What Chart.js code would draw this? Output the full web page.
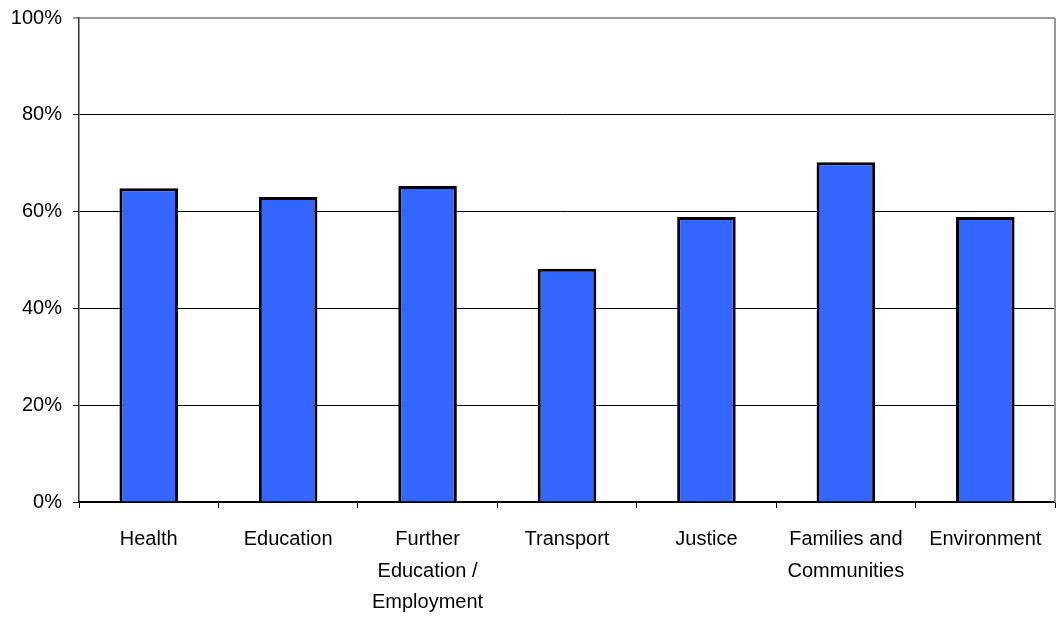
<!DOCTYPE html>
<html>
<head>
<meta charset="utf-8">
<script src="https://cdn.jsdelivr.net/npm/chart.js@4"></script>
<style>
  html, body { margin: 0; padding: 0; background: #fff; }
  #wrap { width: 1058px; height: 626px; }
</style>
</head>
<body>
<div id="wrap"><canvas id="sectorChart" width="1058" height="626"></canvas></div>
<script>
// categories and values (percent)
const categories = ["Health", "Education", ["Further", "Education /", "Employment"], "Transport", "Justice", ["Families and", "Communities"], "Environment"];
const shares = [64.8, 63.0, 65.3, 48.2, 58.9, 70.2, 58.9];
const yTicks = [0, 20, 40, 60, 80, 100];

// right border of the plot area
const frameRight = {
  id: "frameRight",
  afterDraw(chart) {
    const a = chart.chartArea, ctx = chart.ctx;
    ctx.save();
    ctx.strokeStyle = "#999";
    ctx.lineWidth = 2;
    ctx.beginPath();
    ctx.moveTo(a.right, a.top);
    ctx.lineTo(a.right, a.bottom);
    ctx.stroke();
    ctx.restore();
  }
};

new Chart(document.getElementById("sectorChart"), {
  type: "bar",
  data: {
    labels: categories,
    datasets: [{
      data: shares,
      backgroundColor: "#3366ff",
      borderColor: "#000",
      borderWidth: 3,
      categoryPercentage: 1,
      barPercentage: 0.42
    }]
  },
  options: {
    responsive: false,
    animation: false,
    layout: { padding: { top: 18, right: 3, left: 0, bottom: 0 } },
    plugins: { legend: { display: false }, tooltip: { enabled: false } },
    scales: {
      y: {
        min: 0,
        max: 100,
        afterBuildTicks: s => { s.ticks = yTicks.map(v => ({ value: v })); },
        afterFit: s => { s.width = 79; s.paddingTop = 0; s.paddingBottom = 0; },
        ticks: {
          color: "#000",
          padding: 11,
          font: { family: "Liberation Sans, Arial", size: 20 },
          callback: v => v + "%"
        },
        grid: {
          color: c => c.tick && c.tick.value === 100 ? "#999" : "#000",
          lineWidth: c => c.tick && c.tick.value === 100 ? 2 : 1,
          tickLength: 6
        },
        border: { color: "#333", width: 1.5 }
      },
      x: {
        afterFit: s => { s.height = 124; },
        ticks: {
          color: "#000",
          padding: 16,
          maxRotation: 0,
          autoSkip: false,
          font: { family: "Liberation Sans, Arial", size: 20, lineHeight: 1.57 }
        },
        grid: { drawOnChartArea: false, color: "#000", tickLength: 6 },
        border: { color: "#000", width: 1.5 }
      }
    }
  },
  plugins: [frameRight]
});
</script>
</body>
</html>
